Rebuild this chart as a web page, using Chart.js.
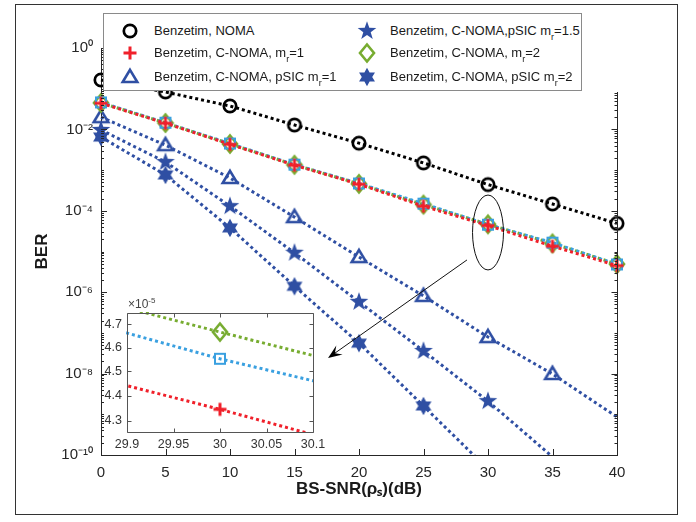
<!DOCTYPE html>
<html>
<head>
<meta charset="utf-8">
<script src="https://cdn.jsdelivr.net/npm/chart.js@4.4.1/dist/chart.umd.min.js"></script>
<style>
  html, body { margin: 0; padding: 0; background: #fff; }
  #wrap { position: relative; width: 696px; height: 522px; font-family: "Liberation Sans", Arial, sans-serif; overflow: hidden; }
  #main { position: absolute; left: 0; top: 0; }
  #inset { position: absolute; left: 70px; top: 296px; }
  #frame { position: absolute; left: 15px; top: 4px; width: 661px; height: 509px; border: 1.5px solid #333; pointer-events: none; }
  #legend { position: absolute; left: 103px; top: 13px; width: 477px; height: 76px; background: #fff; border: 1px solid #8a8a8a; }
  .item { position: absolute; height: 20px; line-height: 20px; font-size: 13px; color: #1a1a1a; white-space: nowrap; }
  .item canvas { position: absolute; left: 0; top: -2px; }
  .item span { position: absolute; top: 0; }
  .item sub { font-size: 9px; vertical-align: -5px; line-height: 0; }
  #scale { position: absolute; left: 128px; top: 297px; font-size: 12px; color: #444; }
  #scale sup { font-size: 8px; vertical-align: 5px; line-height: 0; }
</style>
</head>
<body>
<div id="wrap">
  <canvas id="main" width="696" height="522"></canvas>
  <canvas id="inset" width="255" height="160"></canvas>
  <div id="scale">×10<sup>-5</sup></div>
  <div id="legend"></div>
  <div id="frame"></div>
</div>
<script>
// ---------------- data ----------------
const snrDb = [0, 5, 10, 15, 20, 25, 30, 35, 40];
const snrTicks = [0, 5, 10, 15, 20, 25, 30, 35, 40];

const berNoma        = [0.164, 0.083, 0.0376, 0.0128, 0.0046, 0.0015, 4.4e-4, 1.47e-4, 4.9e-5];
const berCnomaMr1    = [0.044, 0.0142, 0.0043, 1.32e-3, 4.5e-4, 1.30e-4, 4.345e-5, 1.35e-5, 4.5e-6];
const berCnomaMr15   = [0.046, 0.0146, 0.0045, 1.36e-3, 4.7e-4, 1.50e-4, 4.553e-5, 1.65e-5, 4.8e-6];
const berCnomaMr2    = [0.045, 0.0144, 0.0044, 1.35e-3, 4.6e-4, 1.42e-4, 4.667e-5, 1.58e-5, 4.9e-6];
const berPsicMr1     = [2.0e-2, 4.1e-3, 6.4e-4, 7.0e-5, 7.3e-6, 8.1e-7, 7.9e-8, 9.8e-9, 8.6e-10];
const berPsicMr15    = [9.7e-3, 1.58e-3, 1.3e-4, 9.3e-6, 5.8e-7, 3.6e-8, 2.1e-9, 9.0e-11, 4.0e-12];
const berPsicMr2     = [6.5e-3, 7.6e-4, 3.8e-5, 1.4e-6, 5.6e-8, 1.6e-9, 4.5e-11, 1.5e-12, 5.0e-14];

const berTicks = [1, 1e-2, 1e-4, 1e-6, 1e-8, 1e-10];
const berTickLabels = ['10⁰', '10⁻²', '10⁻⁴', '10⁻⁶', '10⁻⁸', '10⁻¹⁰'];

const insetXTicks = [29.9, 29.95, 30, 30.05, 30.1];
const insetXTickLabels = ['29.9', '29.95', '30', '30.05', '30.1'];
const insetYTicks = [4.3e-5, 4.4e-5, 4.5e-5, 4.6e-5, 4.7e-5];
const insetYTickLabels = ['4.3', '4.4', '4.5', '4.6', '4.7'];

const labelNoma      = 'Benzetim, NOMA';
const labelCnomaMr1  = 'Benzetim, C-NOMA, m_r=1';
const labelCnomaMr15 = 'Benzetim, C-NOMA, m_r=1.5';
const labelCnomaMr2  = 'Benzetim, C-NOMA, m_r=2';
const labelPsicMr1   = 'Benzetim, C-NOMA, pSIC m_r=1';
const labelPsicMr15  = 'Benzetim, C-NOMA,pSIC m_r=1.5';
const labelPsicMr2   = 'Benzetim, C-NOMA, pSIC m_r=2';

// annotation (ellipse around x=30 and arrow to inset), in data units
const zoomMark = { x: 30, y: 2.93e-5, rx: 1.2, ryDecades: 0.92 };
const arrowFrom = { x: 28.37, y: 6.2e-6 };
const arrowTo = { x: 17.6, y: 2.42e-8 };
const rightAxisTop = 92;

// ---------------- styles ----------------
const axisColor = '#262626';
const cBlack = '#000000', cRed = '#f0202a', cBlue = '#2f4fa3', cGreen = '#77ac30', cCyan = '#3aa0e0';

function markerCanvas(kind, color) {
  const S = 24;
  const c = document.createElement('canvas');
  c.width = S; c.height = S;
  const g = c.getContext('2d');
  g.translate(S / 2, S / 2);
  g.strokeStyle = color; g.fillStyle = color; g.lineJoin = 'miter';
  const star = (n, R, r) => {
    g.beginPath();
    for (let i = 0; i < 2 * n; i++) {
      const a = -Math.PI / 2 + i * Math.PI / n;
      const rr = i % 2 === 0 ? R : r;
      const px = rr * Math.cos(a), py = rr * Math.sin(a);
      if (i === 0) g.moveTo(px, py); else g.lineTo(px, py);
    }
    g.closePath(); g.fill();
  };
  switch (kind) {
    case 'circle':
      g.lineWidth = 2.7; g.beginPath(); g.arc(0, 0, 6.2, 0, Math.PI * 2); g.stroke(); break;
    case 'plus':
      g.lineWidth = 3; g.beginPath(); g.moveTo(-6.5, 0); g.lineTo(6.5, 0); g.moveTo(0, -6.5); g.lineTo(0, 6.5); g.stroke(); break;
    case 'triangle':
      g.lineWidth = 2.6; g.beginPath(); g.moveTo(0, -7.2); g.lineTo(7.3, 5); g.lineTo(-7.3, 5); g.closePath(); g.stroke(); break;
    case 'star5':
      star(5, 9.8, 3.9); break;
    case 'star6':
      star(6, 9.2, 5.2); break;
    case 'diamond':
      g.lineWidth = 2.6; g.beginPath(); g.moveTo(0, -8.5); g.lineTo(7, 0); g.lineTo(0, 8.5); g.lineTo(-7, 0); g.closePath(); g.stroke(); break;
    case 'square':
      g.lineWidth = 2; g.beginPath(); g.rect(-5, -5, 10, 10); g.stroke(); break;
  }
  return c;
}

const series = [
  { label: labelCnomaMr1, data: berCnomaMr1, color: cRed, marker: 'plus', legend: true, dashOffset: 0 },
  { label: labelCnomaMr15, data: berCnomaMr15, color: cCyan, marker: 'square', legend: false, dashOffset: 0 },
  { label: labelCnomaMr2, data: berCnomaMr2, color: cGreen, marker: 'diamond', legend: true, dashOffset: 1.5 },
  { label: labelNoma, data: berNoma, color: cBlack, marker: 'circle', legend: true, dashOffset: 0 },
  { label: labelPsicMr1, data: berPsicMr1, color: cBlue, marker: 'triangle', legend: true, lastMarker: 7, dashOffset: 0 },
  { label: labelPsicMr15, data: berPsicMr15, color: cBlue, marker: 'star5', legend: true, dashOffset: 0 },
  { label: labelPsicMr2, data: berPsicMr2, color: cBlue, marker: 'star6', legend: true, dashOffset: 0 }
];

function toDataset(s) {
  const img = markerCanvas(s.marker, s.color);
  return {
    label: s.label.replace('m_r', 'mᵣ'),
    data: snrDb.map((x, i) => ({ x: x, y: s.data[i] })),
    borderColor: s.color,
    backgroundColor: s.color,
    borderWidth: 3,
    borderDash: [3, 3],
    borderDashOffset: s.dashOffset,
    borderCapStyle: 'butt',
    tension: 0,
    fill: false,
    pointStyle: img,
    pointRadius: (ctx) => {
      const raw = ctx.raw;
      if (!raw) return 5;
      if (raw.y < 1e-10) return 0;
      if (s.lastMarker !== undefined && ctx.dataIndex > s.lastMarker) return 0;
      return 5;
    },
    pointHoverRadius: 5,
    clip: { left: 14, top: 14, right: 14, bottom: 0 }
  };
}

Chart.defaults.font.family = '"Liberation Sans", Arial, sans-serif';
Chart.defaults.color = axisColor;

const decor = {
  id: 'decor',
  afterDatasetsDraw(chart) {
    const { ctx, chartArea: a } = chart;
    const x = chart.scales.x, y = chart.scales.y;
    ctx.save();
    ctx.strokeStyle = axisColor;
    ctx.lineWidth = 1;
    ctx.setLineDash([]);
    ctx.beginPath();
    const rx = Math.round(a.right) + 0.5;
    ctx.moveTo(rx, rightAxisTop); ctx.lineTo(rx, a.bottom);
    snrTicks.forEach(v => {
      const px = Math.round(x.getPixelForValue(v)) + 0.5;
      ctx.moveTo(px, a.bottom); ctx.lineTo(px, a.bottom - 6);
    });
    for (let d = -10; d <= 0; d++) {
      for (let k = 1; k <= 9; k++) {
        if (d === 0 && k > 1) break;
        const v = k * Math.pow(10, d);
        const py = Math.round(y.getPixelForValue(v)) + 0.5;
        const len = (k === 1 && d % 2 === 0) ? 6 : 3;
        ctx.moveTo(a.left, py); ctx.lineTo(a.left + len, py);
        if (py > rightAxisTop) { ctx.moveTo(rx, py); ctx.lineTo(rx - len, py); }
      }
    }
    ctx.stroke();

    // ellipse
    ctx.strokeStyle = '#111';
    ctx.lineWidth = 1;
    const cx = x.getPixelForValue(zoomMark.x), cy = y.getPixelForValue(zoomMark.y);
    const erx = x.getPixelForValue(zoomMark.x + zoomMark.rx) - cx;
    const ery = cy - y.getPixelForValue(zoomMark.y * Math.pow(10, zoomMark.ryDecades));
    ctx.beginPath(); ctx.ellipse(cx, cy, erx, ery, 0, 0, Math.PI * 2); ctx.stroke();

    // arrow
    const p0 = { x: x.getPixelForValue(arrowFrom.x), y: y.getPixelForValue(arrowFrom.y) };
    const p1 = { x: x.getPixelForValue(arrowTo.x), y: y.getPixelForValue(arrowTo.y) };
    const ang = Math.atan2(p1.y - p0.y, p1.x - p0.x);
    const cs = Math.cos(ang), sn = Math.sin(ang);
    const L = 14, W = 5.5;
    ctx.beginPath(); ctx.moveTo(p0.x, p0.y); ctx.lineTo(p1.x - cs * 8, p1.y - sn * 8); ctx.stroke();
    ctx.fillStyle = '#000';
    ctx.beginPath();
    ctx.moveTo(p1.x, p1.y);
    ctx.lineTo(p1.x - cs * L - sn * W, p1.y - sn * L + cs * W);
    ctx.lineTo(p1.x - cs * L * 0.6, p1.y - sn * L * 0.6);
    ctx.lineTo(p1.x - cs * L + sn * W, p1.y - sn * L - cs * W);
    ctx.closePath(); ctx.fill();
    ctx.restore();
  }
};

new Chart(document.getElementById('main'), {
  type: 'line',
  data: { datasets: series.map(toDataset) },
  options: {
    responsive: false,
    animation: false,
    devicePixelRatio: 1,
    layout: { padding: { top: 48, right: 79, left: 0, bottom: 0 } },
    plugins: { legend: { display: false }, tooltip: { enabled: false } },
    scales: {
      x: {
        type: 'linear', min: 0, max: 40,
        afterBuildTicks: (s) => { s.ticks = snrTicks.map(v => ({ value: v })); },
        afterFit: (s) => { s.height = 67; },
        grid: { display: true, drawOnChartArea: false, drawTicks: false },
        border: { display: true, color: axisColor, width: 1 },
        ticks: { font: { size: 15 }, color: axisColor, padding: 9, maxRotation: 0, autoSkip: false },
        title: { display: true, text: 'BS-SNR(ρₛ)(dB)', font: { size: 17, weight: 'bold' }, color: '#1a1a1a', padding: { top: 0, bottom: 22 } }
      },
      y: {
        type: 'logarithmic', min: 1e-10, max: 1,
        afterBuildTicks: (s) => { s.ticks = berTicks.map(v => ({ value: v })); },
        afterFit: (s) => { s.width = 101; },
        grid: { display: true, drawOnChartArea: false, drawTicks: false },
        border: { display: true, color: axisColor, width: 1 },
        ticks: { font: { size: 15 }, color: axisColor, padding: 8, autoSkip: false, callback: (v, i) => berTickLabels[i] },
        title: { display: true, text: 'BER', font: { size: 17, weight: 'bold' }, color: '#1a1a1a', padding: { top: 32, bottom: 0 } }
      }
    }
  },
  plugins: [decor]
});

// ---------------- inset ----------------
const insetDecor = {
  id: 'insetDecor',
  afterDatasetsDraw(chart) {
    const { ctx, chartArea: a } = chart;
    const x = chart.scales.x, y = chart.scales.y;
    ctx.save();
    ctx.strokeStyle = '#555';
    ctx.lineWidth = 1;
    ctx.setLineDash([]);
    ctx.beginPath();
    const L = Math.round(a.left) + 0.5, R = Math.round(a.right) + 0.5, T = Math.round(a.top) + 0.5, B = Math.round(a.bottom) + 0.5;
    ctx.rect(L, T, R - L, B - T);
    insetXTicks.forEach(v => {
      const px = Math.round(x.getPixelForValue(v)) + 0.5;
      ctx.moveTo(px, B); ctx.lineTo(px, B - 4);
      ctx.moveTo(px, T); ctx.lineTo(px, T + 4);
    });
    insetYTicks.forEach(v => {
      const py = Math.round(y.getPixelForValue(v)) + 0.5;
      ctx.moveTo(L, py); ctx.lineTo(L + 4, py);
      ctx.moveTo(R, py); ctx.lineTo(R - 4, py);
    });
    ctx.stroke();
    ctx.restore();
  }
};

const insetSeries = series.filter(s => s.marker === 'plus' || s.marker === 'square' || s.marker === 'diamond');
new Chart(document.getElementById('inset'), {
  type: 'line',
  data: {
    datasets: insetSeries.map(s => {
      const d = toDataset(s);
      d.clip = 1;
      return d;
    })
  },
  options: {
    responsive: false,
    animation: false,
    devicePixelRatio: 1,
    layout: { padding: { top: 17, right: 12, left: 0, bottom: 0 } },
    plugins: { legend: { display: false }, tooltip: { enabled: false } },
    scales: {
      x: {
        type: 'linear', min: 29.9, max: 30.1,
        afterBuildTicks: (s) => { s.ticks = insetXTicks.map(v => ({ value: v })); },
        afterFit: (s) => { s.height = 24; s.paddingLeft = 0; s.paddingRight = 0; },
        grid: { display: false, drawOnChartArea: false, drawTicks: false },
        border: { display: false },
        ticks: { font: { size: 12.5 }, color: '#333', padding: 5, maxRotation: 0, autoSkip: false, callback: (v, i) => insetXTickLabels[i] }
      },
      y: {
        type: 'logarithmic', min: 4.255e-5, max: 4.75e-5,
        afterBuildTicks: (s) => { s.ticks = insetYTicks.map(v => ({ value: v })); },
        afterFit: (s) => { s.width = 57; },
        grid: { display: false, drawOnChartArea: false, drawTicks: false },
        border: { display: false },
        ticks: { font: { size: 12.5 }, color: '#333', padding: 5, autoSkip: false, callback: (v, i) => insetYTickLabels[i] }
      }
    }
  },
  plugins: [insetDecor]
});

// ---------------- legend (HTML, MATLAB-style two columns) ----------------
const legendOrder = [labelNoma, labelCnomaMr1, labelPsicMr1, labelPsicMr15, labelCnomaMr2, labelPsicMr2];
const legendEl = document.getElementById('legend');
const rowCenters = [17, 39, 63];
const colMarkerX = [26, 263];
const colTextX = [50, 286];
legendOrder.forEach((lab, i) => {
  const s = series.find(q => q.label === lab);
  const col = Math.floor(i / 3), row = i % 3;
  const item = document.createElement('div');
  item.className = 'item';
  item.style.left = '0px';
  item.style.top = (rowCenters[row] - 10) + 'px';
  const cv = markerCanvas(s.marker, s.color);
  cv.style.left = (colMarkerX[col] - 12) + 'px';
  item.appendChild(cv);
  const sp = document.createElement('span');
  sp.style.left = colTextX[col] + 'px';
  sp.innerHTML = lab.replace('m_r', 'm<sub>r</sub>');
  item.appendChild(sp);
  legendEl.appendChild(item);
});
</script>
</body>
</html>
